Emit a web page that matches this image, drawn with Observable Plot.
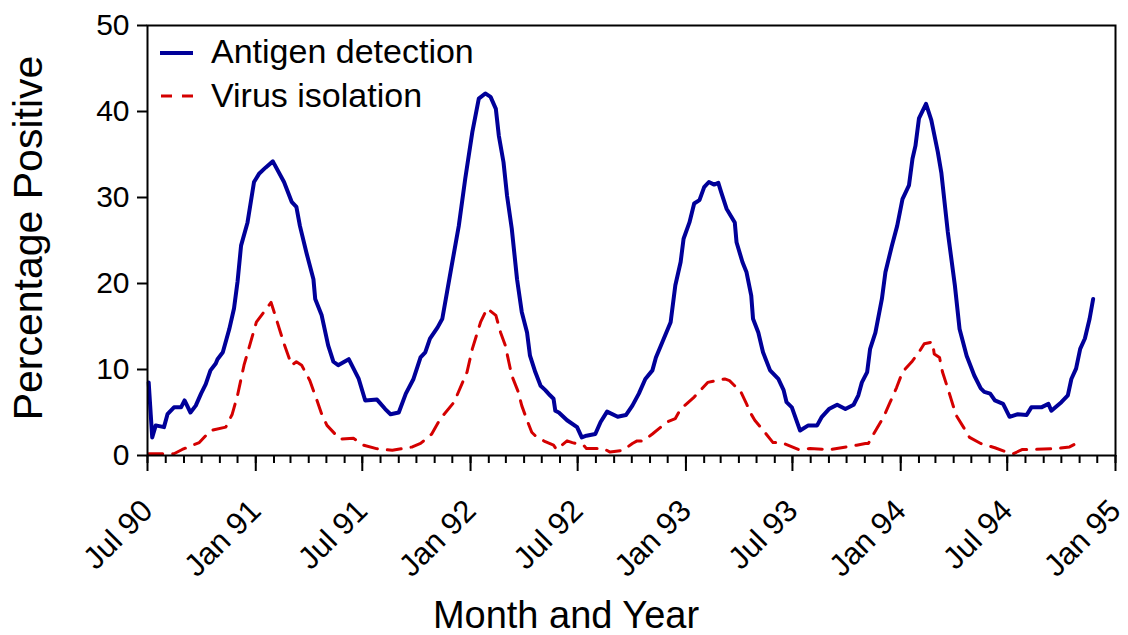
<!DOCTYPE html>
<html><head><meta charset="utf-8">
<script src="https://cdn.jsdelivr.net/npm/d3@7"></script>
<script src="https://cdn.jsdelivr.net/npm/@observablehq/plot@0.6"></script>
<style>
body{margin:0;background:#fff}
svg{font-family:"Liberation Sans",Arial,Helvetica,sans-serif}
</style>
</head><body><div id="chart"></div>
<script>
// ---- data ----
const seriesNames = ["Antigen detection", "Virus isolation"];
const yTicks = [0, 10, 20, 30, 40, 50];
const xDomain = ["1990-07-01", "1995-01-01"];
const xTitle = "Month and Year";
const yTitle = "Percentage Positive";

const antigen = [["1990-07-03",8.5],["1990-07-09",2.1],["1990-07-15",3.5],["1990-07-29",3.3],["1990-08-04",4.8],["1990-08-15",5.6],["1990-08-27",5.6],["1990-09-02",6.4],["1990-09-12",5.0],["1990-09-21",5.8],["1990-09-30",7.2],["1990-10-08",8.3],["1990-10-16",9.9],["1990-10-25",10.7],["1990-10-28",11.2],["1990-11-06",12.0],["1990-11-17",14.7],["1990-11-25",17.1],["1990-12-01",20.2],["1990-12-07",24.4],["1990-12-18",27.1],["1990-12-29",31.8],["1991-01-07",32.8],["1991-01-18",33.5],["1991-01-30",34.2],["1991-02-18",31.8],["1991-03-03",29.5],["1991-03-11",28.9],["1991-03-17",26.7],["1991-03-28",23.6],["1991-04-09",20.5],["1991-04-12",18.2],["1991-04-23",16.3],["1991-05-04",12.8],["1991-05-13",10.9],["1991-05-21",10.5],["1991-06-08",11.2],["1991-06-25",8.9],["1991-07-06",6.4],["1991-07-26",6.5],["1991-08-09",5.4],["1991-08-18",4.8],["1991-09-01",5.0],["1991-09-13",7.2],["1991-09-26",8.9],["1991-10-08",11.4],["1991-10-16",12.0],["1991-10-24",13.6],["1991-11-06",14.9],["1991-11-14",15.9],["1991-11-22",19.0],["1991-11-30",22.1],["1991-12-12",26.7],["1991-12-23",32.2],["1992-01-04",37.6],["1992-01-15",41.5],["1992-01-26",42.1],["1992-02-04",41.7],["1992-02-13",40.3],["1992-02-18",37.2],["1992-02-26",34.1],["1992-03-03",30.2],["1992-03-11",26.4],["1992-03-20",20.5],["1992-03-28",16.7],["1992-04-06",14.3],["1992-04-11",11.6],["1992-04-20",9.7],["1992-04-29",8.1],["1992-05-07",7.6],["1992-05-15",7.0],["1992-05-21",6.6],["1992-05-24",5.2],["1992-05-30",5.0],["1992-06-13",4.1],["1992-06-30",3.3],["1992-07-08",2.1],["1992-07-16",2.3],["1992-07-31",2.5],["1992-08-09",3.9],["1992-08-20",5.1],["1992-09-07",4.5],["1992-09-21",4.7],["1992-10-02",5.8],["1992-10-13",7.2],["1992-10-24",8.9],["1992-11-05",9.9],["1992-11-11",11.4],["1992-11-22",13.2],["1992-12-06",15.5],["1992-12-14",19.8],["1992-12-23",22.5],["1992-12-28",25.2],["1993-01-07",27.1],["1993-01-15",29.3],["1993-01-24",29.7],["1993-02-01",31.2],["1993-02-09",31.8],["1993-02-18",31.5],["1993-02-25",31.7],["1993-03-02",30.6],["1993-03-11",28.7],["1993-03-25",27.1],["1993-03-28",24.8],["1993-04-07",22.5],["1993-04-14",21.3],["1993-04-22",18.6],["1993-04-25",15.9],["1993-05-04",14.3],["1993-05-12",12.0],["1993-05-24",9.9],["1993-06-07",8.9],["1993-06-16",7.6],["1993-06-21",6.2],["1993-06-30",5.6],["1993-07-14",2.9],["1993-07-28",3.5],["1993-08-12",3.5],["1993-08-20",4.5],["1993-09-01",5.4],["1993-09-15",5.9],["1993-09-29",5.4],["1993-10-13",5.9],["1993-10-21",7.0],["1993-10-27",8.5],["1993-11-05",9.7],["1993-11-10",12.4],["1993-11-19",14.3],["1993-11-30",18.2],["1993-12-06",21.3],["1993-12-17",24.4],["1993-12-26",26.7],["1994-01-04",29.8],["1994-01-15",31.4],["1994-01-21",34.5],["1994-01-26",36.0],["1994-02-01",39.2],["1994-02-13",40.9],["1994-02-22",39.0],["1994-03-05",35.3],["1994-03-11",32.9],["1994-03-22",26.0],["1994-04-03",19.8],["1994-04-11",14.7],["1994-04-23",11.6],["1994-05-06",9.3],["1994-05-17",7.8],["1994-05-23",7.4],["1994-06-02",7.2],["1994-06-10",6.4],["1994-06-24",6.0],["1994-07-05",4.5],["1994-07-19",4.8],["1994-08-03",4.7],["1994-08-11",5.6],["1994-08-28",5.6],["1994-09-09",6.0],["1994-09-14",5.2],["1994-10-01",6.2],["1994-10-12",7.0],["1994-10-18",8.9],["1994-10-26",10.1],["1994-11-02",12.4],["1994-11-10",13.6],["1994-11-18",15.9],["1994-11-24",18.2]];

const isolation = [["1990-07-03",0.2],["1990-08-15",0.2],["1990-08-29",0.7],["1990-09-27",1.5],["1990-10-16",2.9],["1990-11-11",3.3],["1990-11-22",4.8],["1990-12-01",7.0],["1990-12-12",10.5],["1990-12-20",12.4],["1991-01-02",15.5],["1991-01-27",17.8],["1991-02-02",16.5],["1991-02-18",13.0],["1991-03-03",10.5],["1991-03-11",10.9],["1991-03-20",10.5],["1991-04-03",8.7],["1991-04-14",6.6],["1991-04-23",4.8],["1991-05-02",3.5],["1991-05-24",1.9],["1991-06-16",2.0],["1991-07-03",1.2],["1991-07-25",0.8],["1991-08-21",0.6],["1991-09-24",1.0],["1991-10-08",1.4],["1991-10-27",2.5],["1991-11-11",4.3],["1991-12-04",6.2],["1991-12-26",9.7],["1992-01-04",12.4],["1992-01-18",15.5],["1992-01-29",17.1],["1992-02-13",16.3],["1992-02-21",14.3],["1992-02-29",12.8],["1992-03-11",9.3],["1992-03-22",7.4],["1992-03-28",5.8],["1992-04-06",4.1],["1992-04-14",2.7],["1992-04-20",2.3],["1992-05-07",1.6],["1992-05-21",1.2],["1992-05-26",0.7],["1992-06-04",1.2],["1992-06-13",1.7],["1992-06-22",1.5],["1992-07-11",1.2],["1992-07-16",0.8],["1992-08-14",0.8],["1992-08-25",0.4],["1992-09-16",0.6],["1992-10-02",1.4],["1992-10-10",1.7],["1992-10-21",1.7],["1992-11-05",2.5],["1992-11-30",3.9],["1992-12-14",4.3],["1992-12-23",5.4],["1993-01-15",6.8],["1993-01-26",7.6],["1993-02-07",8.5],["1993-02-21",8.7],["1993-03-08",8.9],["1993-03-16",8.7],["1993-03-25",8.1],["1993-04-03",7.6],["1993-04-14",6.0],["1993-04-22",4.8],["1993-04-28",4.1],["1993-05-15",2.7],["1993-05-29",1.5],["1993-06-13",1.5],["1993-07-11",0.7],["1993-07-31",0.8],["1993-09-04",0.7],["1993-10-18",1.2],["1993-11-02",1.4],["1993-11-07",1.4],["1993-11-16",2.5],["1993-12-03",4.5],["1993-12-14",6.2],["1993-12-25",7.9],["1994-01-04",9.7],["1994-01-21",11.0],["1994-02-01",12.0],["1994-02-10",13.0],["1994-02-24",13.2],["1994-02-27",11.8],["1994-03-08",11.4],["1994-03-13",9.7],["1994-03-22",7.8],["1994-04-05",4.7],["1994-04-23",2.7],["1994-04-28",2.1],["1994-05-17",1.4],["1994-06-10",0.9],["1994-06-26",0.5],["1994-07-11",0.2],["1994-07-27",0.7],["1994-08-14",0.7],["1994-09-23",0.8],["1994-10-15",1.0],["1994-10-26",1.4],["1994-11-07",1.7]];

// ---- styles ----
const BLUE = "#000099";
const RED = "#d40000";
const FONT = '"Liberation Sans", Arial, Helvetica, sans-serif';

const parse = d3.utcParse("%Y-%m-%d");
const antRows = antigen.map(([d, v]) => ({date: parse(d), pct: v}));
const isoRows = isolation.map(([d, v]) => ({date: parse(d), pct: v}));

const W = 1128, H = 635, ML = 147, MR = 13, MT = 25, MB = 180;

const svg = Plot.plot({
  width: W, height: H,
  marginLeft: ML, marginRight: MR, marginTop: MT, marginBottom: MB,
  style: {fontFamily: FONT, background: "white", color: "black", overflow: "visible"},
  x: {type: "utc", domain: xDomain.map(parse)},
  y: {domain: [0, 50]},
  marks: [
    Plot.axisY({ticks: yTicks, tickSize: 10, tickPadding: 8, fontSize: 30, strokeWidth: 2, label: null, tickFormat: d => String(d)}),
    Plot.axisX({ticks: d3.utcMonth.every(1), tickSize: 8, tickFormat: () => "", strokeWidth: 2, label: null}),
    Plot.axisX({ticks: d3.utcMonth.every(6), tickSize: 16, tickPadding: 34, tickRotate: -45,
      tickFormat: d3.utcFormat("%b %y"), fontSize: 31, strokeWidth: 2, label: null}),
    Plot.line(isoRows, {x: "date", y: "pct", stroke: RED, strokeWidth: 3, strokeDasharray: "14,10"}),
    Plot.line(antRows, {x: "date", y: "pct", stroke: BLUE, strokeWidth: 4}),
    Plot.frame({stroke: "black", strokeWidth: 2})
  ]
});

const s = d3.select(svg);
// legend
const leg = s.append("g").attr("font-family", FONT).attr("font-size", 34)
  .attr("fill", "black").attr("text-anchor", "start");
leg.append("line").attr("x1", 160).attr("x2", 193).attr("y1", 53).attr("y2", 53)
  .attr("stroke", BLUE).attr("stroke-width", 4);
leg.append("text").attr("x", 211).attr("y", 63).attr("text-anchor", "start").text(seriesNames[0]);
leg.append("line").attr("x1", 161).attr("x2", 193).attr("y1", 96).attr("y2", 96)
  .attr("stroke", RED).attr("stroke-width", 3).attr("stroke-dasharray", "11,10");
leg.append("text").attr("x", 211).attr("y", 107).attr("text-anchor", "start").text(seriesNames[1]);
// axis titles
s.append("text").attr("x", 566).attr("y", 628).attr("text-anchor", "middle")
  .attr("font-family", FONT).attr("font-size", 38).attr("fill", "black").text(xTitle);
s.append("text").attr("transform", "translate(42,238) rotate(-90)").attr("text-anchor", "middle")
  .attr("font-family", FONT).attr("font-size", 41).attr("fill", "black").text(yTitle);

document.getElementById("chart").appendChild(svg);
</script>
</body></html>
